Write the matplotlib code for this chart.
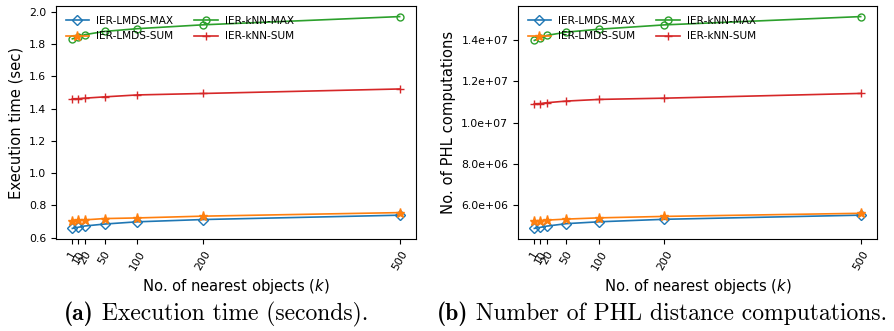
import matplotlib
matplotlib.use("Agg")
import matplotlib.pyplot as plt
from matplotlib.ticker import FormatStrFormatter

k = [1, 10, 20, 50, 100, 200, 500]
labels = ["IER-LMDS-MAX", "IER-LMDS-SUM", "IER-kNN-MAX", "IER-kNN-SUM"]

time_lmds_max = [0.657, 0.664, 0.672, 0.684, 0.698, 0.712, 0.739]
time_lmds_sum = [0.706, 0.707, 0.710, 0.718, 0.722, 0.733, 0.755]
time_knn_max = [1.833, 1.843, 1.859, 1.879, 1.896, 1.920, 1.971]
time_knn_sum = [1.461, 1.462, 1.465, 1.473, 1.485, 1.494, 1.522]

phl_lmds_max = [4.89e6, 4.94e6, 5.00e6, 5.12e6, 5.21e6, 5.33e6, 5.53e6]
phl_lmds_sum = [5.25e6, 5.27e6, 5.29e6, 5.34e6, 5.40e6, 5.47e6, 5.62e6]
phl_knn_max = [1.397e7, 1.408e7, 1.421e7, 1.437e7, 1.451e7, 1.472e7, 1.512e7]
phl_knn_sum = [1.091e7, 1.092e7, 1.096e7, 1.104e7, 1.112e7, 1.118e7, 1.141e7]

captions = [("(a)", " Execution time (seconds)."),
            ("(b)", " Number of PHL distance computations.")]

W, H = 894, 331
fig = plt.figure(figsize=(W / 100, H / 100), dpi=100)

def px_axes(x0, y0, x1, y1):
    return fig.add_axes([x0 / W, 1 - y1 / H, (x1 - x0) / W, (y1 - y0) / H])

styles = [
    dict(color="C0", marker="D", mfc="none", ms=5),
    dict(color="C1", marker="*", ms=6.5),
    dict(color="C2", marker="o", mfc="none", ms=5),
    dict(color="C3", marker="+", ms=6),
]

def draw(ax, series, ylabel, fmt=None):
    for s, lab, st in zip(series, labels, styles):
        ax.plot(k, s, label=lab, lw=1.2, **st)
    ax.set_xticks(k)
    ax.set_xticklabels([str(v) for v in k], rotation=60, fontsize=7.8)
    ax.tick_params(axis="y", labelsize=7.8)
    ax.set_xlabel("No. of nearest objects ($k$)", fontsize=10.6)
    ax.set_ylabel(ylabel, fontsize=10.6)
    if fmt:
        ax.yaxis.set_major_formatter(FormatStrFormatter(fmt))
    ax.legend(ncol=2, frameon=False, fontsize=7.6, loc="upper left",
              handlelength=2.2, handletextpad=0.7, columnspacing=2.0,
              borderaxespad=0.5, labelspacing=0.55)

ax1 = px_axes(56, 6, 416, 239)
draw(ax1, [time_lmds_max, time_lmds_sum, time_knn_max, time_knn_sum],
     "Execution time (sec)")

ax2 = px_axes(518, 6, 877, 239)
draw(ax2, [phl_lmds_max, phl_lmds_sum, phl_knn_max, phl_knn_sum],
     "No. of PHL computations", fmt="%.1e")

renderer = fig.canvas.get_renderer()
for (bold, rest), cx in zip(captions, [216, 662]):
    t1 = fig.text(0, 1 - 314 / H, bold, family="cmb10", fontsize=17,
                  ha="left", va="center")
    t2 = fig.text(0, 1 - 314 / H, rest, family="cmr10", fontsize=17,
                  ha="left", va="center")
    w1 = t1.get_window_extent(renderer).width
    w2 = t2.get_window_extent(renderer).width
    x0 = cx - (w1 + w2) / 2
    t1.set_x(x0 / W)
    t2.set_x((x0 + w1) / W)

fig.savefig("out.png", dpi=100)
